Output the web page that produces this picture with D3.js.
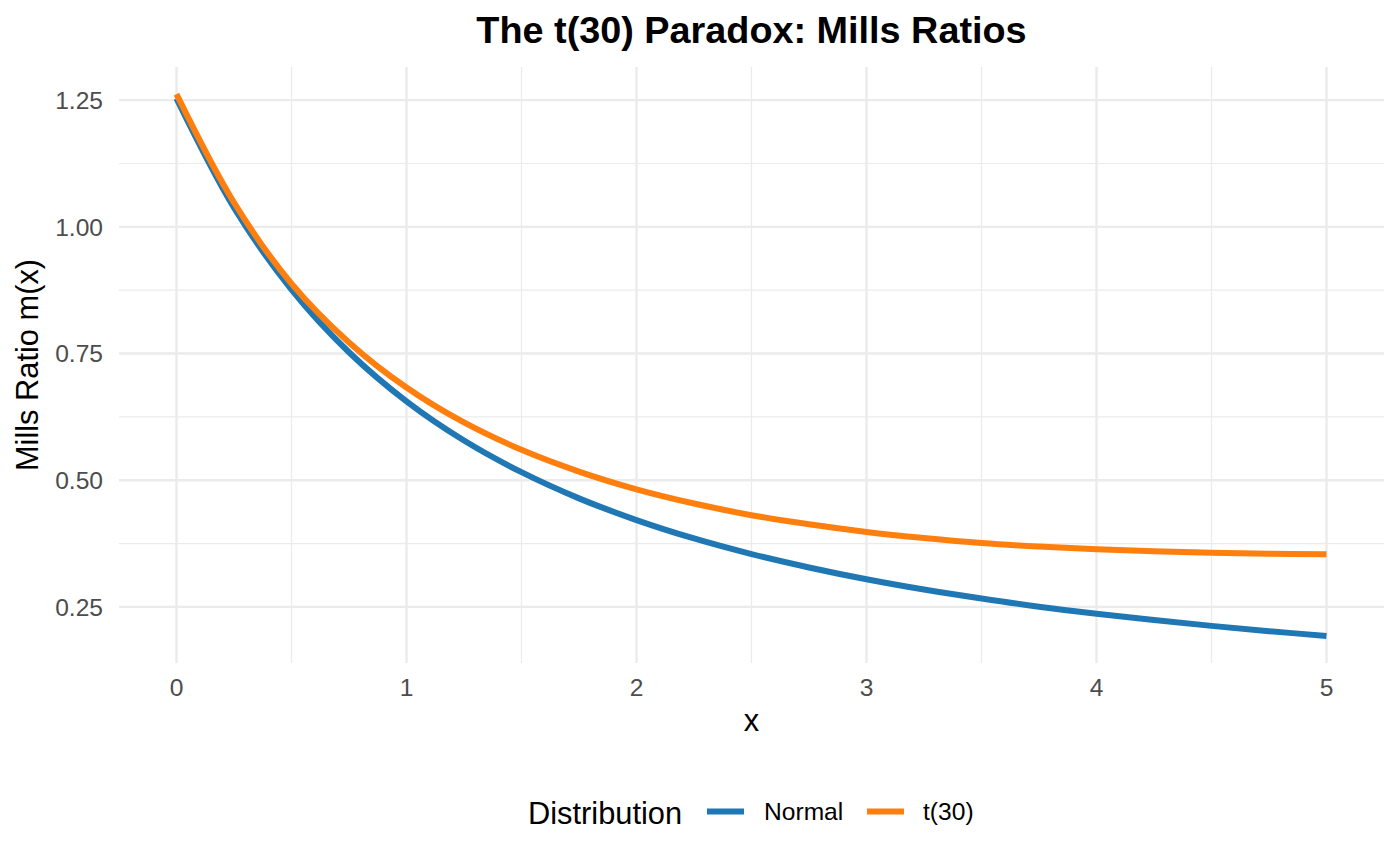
<!DOCTYPE html>
<html>
<head>
<meta charset="utf-8">
<script src="https://cdn.jsdelivr.net/npm/d3@7"></script>
<style>
  body { margin: 0; background: #fff; }
  text { font-family: "Liberation Sans", Arial, Helvetica, sans-serif; }
</style>
</head>
<body>
<div id="chart"></div>
<script>
// values
const xs = [0, 0.25, 0.5, 0.75, 1, 1.25, 1.5, 1.75, 2, 2.25, 2.5, 2.75, 3, 3.25, 3.5, 3.75, 4, 4.25, 4.5, 4.75, 5]
const normalVals = [1.2533, 1.0378, 0.8763, 0.7526, 0.6557, 0.5784, 0.5159, 0.4642, 0.4214, 0.3851, 0.3543, 0.3279, 0.3046, 0.2843, 0.2666, 0.2505, 0.2367, 0.2243, 0.2126, 0.2022, 0.1928]
const t30Vals = [1.262, 1.048, 0.888, 0.772, 0.683, 0.614, 0.560, 0.517, 0.482, 0.454, 0.431, 0.413, 0.398, 0.386, 0.376, 0.369, 0.364, 0.360, 0.357, 0.355, 0.354]
const seriesNames = ['Normal', 't(30)']
const seriesColors = ['#1f77b4', '#ff7f0e']
const xTicks = [0, 1, 2, 3, 4, 5]
const xMinor = [0.5, 1.5, 2.5, 3.5, 4.5]
const yTicks = [0.25, 0.5, 0.75, 1.0, 1.25]
const yMinor = [0.375, 0.625, 0.875, 1.125]

const width = 1400, height = 866
const panel = { left: 119, right: 1384, top: 67, bottom: 663 }
const base = 30.8, small = 24.6

const svg = d3.select('#chart').append('svg')
  .attr('width', width).attr('height', height)

// ggplot style 5% expansion
const xExt = d3.extent(xs)
const xPad = (xExt[1] - xExt[0]) * 0.05
const allVals = normalVals.concat(t30Vals)
const yExt = d3.extent(allVals)
const yPad = (yExt[1] - yExt[0]) * 0.05

const scaleX = d3.scaleLinear().domain([xExt[0] - xPad, xExt[1] + xPad]).range([panel.left, panel.right])
const scaleY = d3.scaleLinear().domain([yExt[0] - yPad, yExt[1] + yPad]).range([panel.bottom, panel.top])

// grid
const grid = svg.append('g')
grid.selectAll('.minor-x').data(xMinor).enter().append('line')
  .attr('x1', d => scaleX(d)).attr('x2', d => scaleX(d))
  .attr('y1', panel.top).attr('y2', panel.bottom)
  .attr('stroke', '#ebebeb').attr('stroke-width', 1.2)
grid.selectAll('.minor-y').data(yMinor).enter().append('line')
  .attr('x1', panel.left).attr('x2', panel.right)
  .attr('y1', d => scaleY(d)).attr('y2', d => scaleY(d))
  .attr('stroke', '#ebebeb').attr('stroke-width', 1.2)
grid.selectAll('.major-x').data(xTicks).enter().append('line')
  .attr('x1', d => scaleX(d)).attr('x2', d => scaleX(d))
  .attr('y1', panel.top).attr('y2', panel.bottom)
  .attr('stroke', '#ebebeb').attr('stroke-width', 2.4)
grid.selectAll('.major-y').data(yTicks).enter().append('line')
  .attr('x1', panel.left).attr('x2', panel.right)
  .attr('y1', d => scaleY(d)).attr('y2', d => scaleY(d))
  .attr('stroke', '#ebebeb').attr('stroke-width', 2.4)

// tick labels
svg.append('g').selectAll('text').data(xTicks).enter().append('text')
  .attr('x', d => scaleX(d)).attr('y', 695.5)
  .attr('text-anchor', 'middle').attr('font-size', small).attr('fill', '#4d4d4d')
  .text(d => d)

svg.append('g').selectAll('text').data(yTicks).enter().append('text')
  .attr('x', 103).attr('y', d => scaleY(d)).attr('dy', '0.36em')
  .attr('text-anchor', 'end').attr('font-size', small).attr('fill', '#4d4d4d')
  .text(d => d3.format('.2f')(d))

// lines
const line = d3.line()
  .x((d, i) => scaleX(xs[i]))
  .y(d => scaleY(d))
  .curve(d3.curveCatmullRom)

const seriesData = [normalVals, t30Vals]
svg.append('g').selectAll('path').data(seriesData).enter().append('path')
  .attr('d', d => line(d))
  .attr('fill', 'none')
  .attr('stroke', (d, i) => seriesColors[i])
  .attr('stroke-width', 6)

// titles
svg.append('text')
  .attr('x', (panel.left + panel.right) / 2).attr('y', 43)
  .attr('text-anchor', 'middle').attr('font-size', 37.8).attr('font-weight', 'bold')
  .text('The t(30) Paradox: Mills Ratios')

svg.append('text')
  .attr('x', (panel.left + panel.right) / 2).attr('y', 731)
  .attr('text-anchor', 'middle').attr('font-size', base)
  .text('x')

svg.append('text')
  .attr('transform', `translate(38, ${(panel.top + panel.bottom) / 2}) rotate(-90)`)
  .attr('text-anchor', 'middle').attr('font-size', base)
  .text('Mills Ratio m(x)')

// legend
const legend = svg.append('g')
legend.append('text')
  .attr('x', 528).attr('y', 824).attr('font-size', base)
  .text('Distribution')

const keyX = [707, 867]
const labelX = [764, 923]
seriesNames.forEach((name, i) => {
  legend.append('line')
    .attr('x1', keyX[i]).attr('x2', keyX[i] + 37)
    .attr('y1', 811.5).attr('y2', 811.5)
    .attr('stroke', seriesColors[i]).attr('stroke-width', 6)
  legend.append('text')
    .attr('x', labelX[i]).attr('y', 820).attr('font-size', small)
    .text(name)
})
</script>
</body>
</html>
